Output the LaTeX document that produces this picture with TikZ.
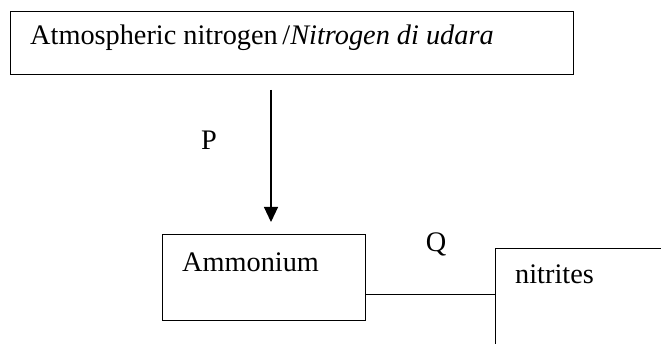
\documentclass[tikz,border=0pt]{standalone}
\usepackage{fontspec}
\setmainfont{Liberation Serif}
\usetikzlibrary{arrows.meta,calc}
\begin{document}
\begin{tikzpicture}[x=1pt,y=1pt,
  box/.style={draw,line width=1.1pt,rectangle,inner sep=0pt},
  txt/.style={inner sep=0pt,font=\fontsize{28.3}{33}\selectfont},
  conn/.style={line width=1.1pt}]
\useasboundingbox[fill=white] (0,0) rectangle (661,343);
\clip (0,0) rectangle (661,343);
% boxes
\node[box,anchor=north west,minimum width=563pt,minimum height=63pt] (top) at (10,332) {};
\node[txt,anchor=base west] (toptext) at (30,298) {Atmospheric nitrogen\,/\textit{Nitrogen di udara}};
\node[box,anchor=north west,minimum width=203pt,minimum height=86pt] (amm) at (162,109) {};
\node[txt,anchor=base west] (ammtext) at (182,72) {Ammonium};
\node[box,anchor=north west,minimum width=220pt,minimum height=140pt] (nit) at (495,95) {};
\node[txt,anchor=base west] (nittext) at (515,60) {nitrites};
% labels
\node[txt,anchor=base] (P) at (209,193) {P};
\node[txt,anchor=base] (Q) at (436,92) {Q};
% connectors
\coordinate (pstart) at (271,253);
\coordinate (pend) at ($(amm.north -| pstart)+(0,12)$);
\draw[conn,-{Triangle[length=15pt,width=14pt]}] (pstart) -- (pend);
\coordinate (qstart) at ($(amm.south east)+(0,27)$);
\draw[conn] (qstart) -- (qstart -| nit.west);
\end{tikzpicture}
\end{document}
